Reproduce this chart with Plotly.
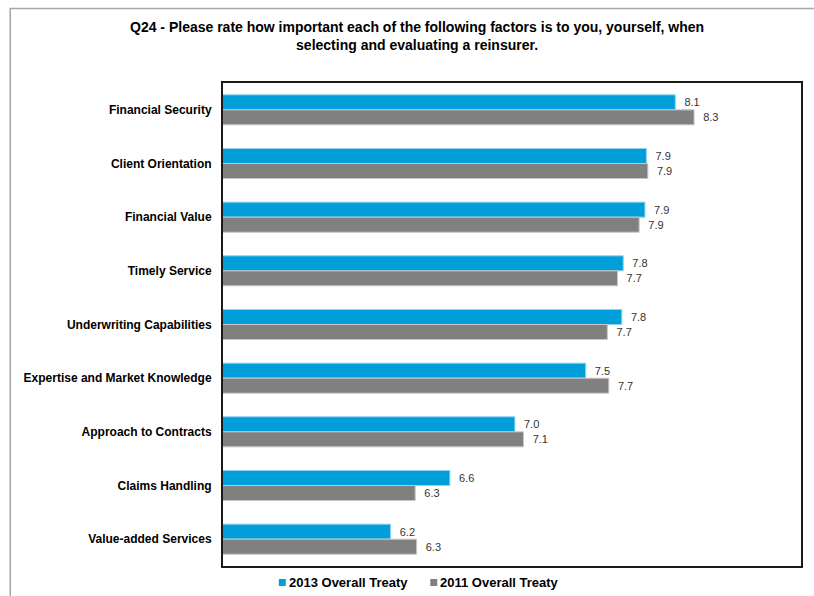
import plotly.graph_objects as go

# Survey factors, listed top to bottom
factors = [
    "Financial Security",
    "Client Orientation",
    "Financial Value",
    "Timely Service",
    "Underwriting Capabilities",
    "Expertise and Market Knowledge",
    "Approach to Contracts",
    "Claims Handling",
    "Value-added Services",
]

# Mean importance ratings
rating_2013 = [8.13, 7.93, 7.92, 7.77, 7.76, 7.51, 7.02, 6.57, 6.16]
rating_2011 = [8.26, 7.94, 7.88, 7.73, 7.66, 7.67, 7.08, 6.33, 6.34]

series_names = ["2013 Overall Treaty", "2011 Overall Treaty"]
series_colors = ["#009FDA", "#808080"]
series_edges = ["#8FD3F0", "#C8C8C8"]

FONT = "Liberation Sans, Arial, sans-serif"

# Canvas geometry (pixels)
W, H = 814, 596
L, R, T, B = 223, 11, 83, 30
PW, PH = W - L - R, H - T - B


def px_x(x):
    return (x - L) / PW


def px_y(y):
    return (H - B - y) / PH


fig = go.Figure()
for name, vals, col, edge in zip(series_names, [rating_2013, rating_2011],
                                 series_colors, series_edges):
    fig.add_trace(go.Bar(
        name=name,
        y=factors,
        x=vals,
        orientation="h",
        marker=dict(color=col, line=dict(color=edge, width=1)),
        texttemplate="\u00a0\u00a0%{x:.1f}",
        textposition="outside",
        textfont=dict(family=FONT, size=11, color="#333333"),
        cliponaxis=False,
        showlegend=False,
    ))

# Title
fig.add_annotation(
    xref="paper", yref="paper",
    x=px_x(418), y=px_y(17), xanchor="center", yanchor="top",
    text="<b>Q24 - Please rate how important each of the following factors is to you, yourself, when"
         "<br>selecting and evaluating a reinsurer.</b>",
    showarrow=False, align="center",
    font=dict(family=FONT, size=14, color="#000000"),
)

# Legend (square swatch + bold label)
legend_x = [279, 431]
shapes = []
for lx, name, col in zip(legend_x, series_names, series_colors):
    shapes.append(dict(
        type="rect", xref="paper", yref="paper",
        x0=px_x(lx), x1=px_x(lx + 7), y0=px_y(586), y1=px_y(579),
        fillcolor=col, line=dict(width=0),
    ))
    fig.add_annotation(
        xref="paper", yref="paper",
        x=px_x(lx + 8), y=px_y(582.5), xanchor="left", yanchor="middle",
        text="<b>%s</b>" % name, showarrow=False,
        font=dict(family=FONT, size=13, color="#000000"),
    )

# Slide frame around the chart
shapes.append(dict(
    type="path", xref="paper", yref="paper",
    path="M %f %f L %f %f L %f %f" % (
        px_x(9.5), px_y(600), px_x(9.5), px_y(8.5), px_x(820), px_y(8.5)),
    line=dict(color="#A6A6A6", width=1.5),
))

fig.update_layout(
    width=W, height=H,
    margin=dict(l=L, r=R, t=T, b=B, pad=0),
    barmode="group",
    bargap=0.44,
    bargroupgap=0,
    plot_bgcolor="white",
    paper_bgcolor="white",
    shapes=shapes,
    font=dict(family=FONT),
)
fig.update_xaxes(
    range=[5, 9], showgrid=False, zeroline=False, showticklabels=False,
    ticks="", showline=True, linecolor="#1A1A1A", linewidth=2, mirror=True,
)
fig.update_yaxes(
    autorange="reversed", showgrid=False, zeroline=False, ticks="",
    showline=True, linecolor="#1A1A1A", linewidth=2, mirror=True,
    ticklabelstandoff=7,
    tickfont=dict(family=FONT, size=12, color="#000000", weight="bold"),
)

fig.write_html("out.html")
